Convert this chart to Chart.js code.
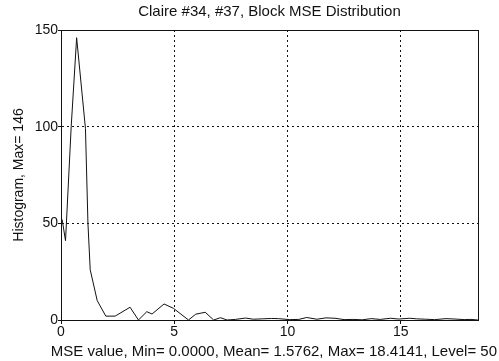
<!DOCTYPE html>
<html>
<head>
<meta charset="utf-8">
<script src="https://cdn.jsdelivr.net/npm/chart.js@4/dist/chart.umd.min.js"></script>
<style>
    body { margin: 0; background: #fff; }
    #wrap { width: 499px; height: 361px; }
</style>
</head>
<body>
<div id="wrap"><canvas id="mseChart" width="499" height="361"></canvas></div>
<script>
// values
const mseValues = [
    0.05, 0.20, 0.45, 0.69, 1.08, 1.19, 1.29, 1.60, 1.98, 2.39,
    3.05, 3.42, 3.79, 4.02, 4.55, 4.97, 5.63, 5.95, 6.37, 6.74,
    7.04, 7.33, 7.70, 8.15, 8.50, 8.90, 9.30, 9.60, 10.10, 10.50,
    10.85, 11.30, 11.70, 12.10, 12.50, 12.90, 13.30, 13.70, 14.10, 14.55,
    14.90, 15.40, 15.70, 16.10, 16.50, 17.00, 17.40, 17.80, 18.10, 18.41
];
const counts = [
    52, 41, 100, 146, 99, 50, 26, 10, 2, 2,
    6.6, 0, 4.3, 3.1, 8.3, 6, 0, 3, 4, 0,
    1.2, 0, 0.3, 1, 0.4, 0.6, 0.8, 0.7, 0.2, 0.3,
    1.3, 0.4, 1.1, 0.9, 0.2, 0.3, 0.1, 0.7, 0.3, 0.9,
    0.5, 0.9, 0.6, 0.4, 0.2, 0.7, 0.5, 0.2, 0.3, 0
];
const yTicks = [0, 50, 100, 150];
const xTicks = [0, 5, 10, 15];

const titleText = 'Claire #34, #37, Block MSE Distribution';
const xTitle = 'MSE value, Min= 0.0000, Mean= 1.5762, Max= 18.4141, Level= 50';
const yTitle = 'Histogram, Max= 146';

const points = mseValues.map((v, i) => ({ x: v, y: counts[i] }));

const ink = '#111';
const fontFamily = '"Liberation Sans", Arial, sans-serif';

// plain box around the plot area
const frame = {
    id: 'frame',
    afterDraw(chart) {
        const { ctx, chartArea: a } = chart;
        ctx.save();
        ctx.strokeStyle = ink;
        ctx.lineWidth = 1;
        ctx.strokeRect(a.left + 0.5, a.top + 0.5, a.right - a.left, a.bottom - a.top);
        ctx.restore();
    }
};

const ctx = document.getElementById('mseChart').getContext('2d');
new Chart(ctx, {
    type: 'line',
    data: {
        datasets: [{
            data: points,
            borderColor: ink,
            borderWidth: 1,
            pointRadius: 0,
            tension: 0,
            fill: false
        }]
    },
    options: {
        responsive: false,
        animation: false,
        layout: { padding: { left: 0, right: 2, top: 0, bottom: 0 } },
        plugins: {
            legend: { display: false },
            tooltip: { enabled: false },
            title: {
                display: true,
                text: titleText,
                fullSize: false,
                color: ink,
                font: { family: fontFamily, size: 15, weight: 'normal' },
                padding: { top: 3, bottom: 9 }
            },
            // x-axis caption is wider than the plot, so it goes in the bottom subtitle
            subtitle: {
                display: true,
                position: 'bottom',
                align: 'end',
                text: xTitle,
                color: ink,
                font: { family: fontFamily, size: 15 },
                padding: { top: 0, bottom: 0 }
            }
        },
        scales: {
            x: {
                type: 'linear',
                min: 0,
                max: 18.4141,
                afterBuildTicks: (s) => { s.ticks = xTicks.map(v => ({ value: v })); },
                afterFit: (s) => { s.height = 23; },
                ticks: {
                    color: ink,
                    padding: 0,
                    maxRotation: 0,
                    font: { family: fontFamily, size: 14 }
                },
                grid: { color: ink, lineWidth: 1, tickLength: 4, tickColor: ink },
                border: { display: true, color: ink, dash: [2, 3] }
            },
            y: {
                min: 0,
                max: 150,
                afterBuildTicks: (s) => { s.ticks = yTicks.map(v => ({ value: v })); },
                afterFit: (s) => { s.width = 61; },
                ticks: {
                    color: ink,
                    padding: 0,
                    font: { family: fontFamily, size: 14 }
                },
                grid: { color: ink, lineWidth: 1, tickLength: 3, tickColor: ink },
                border: { display: true, color: ink, dash: [2, 3] },
                title: {
                    display: true,
                    text: yTitle,
                    color: ink,
                    padding: { top: 11, bottom: 0 },
                    font: { family: fontFamily, size: 14 }
                }
            },
            // empty spacer on the right so the caption can run past the plot edge
            yRight: {
                position: 'right',
                min: 0,
                max: 150,
                afterFit: (s) => { s.width = 19; },
                ticks: { display: false },
                grid: { display: false },
                border: { display: false }
            }
        }
    },
    plugins: [frame]
});
</script>
</body>
</html>
